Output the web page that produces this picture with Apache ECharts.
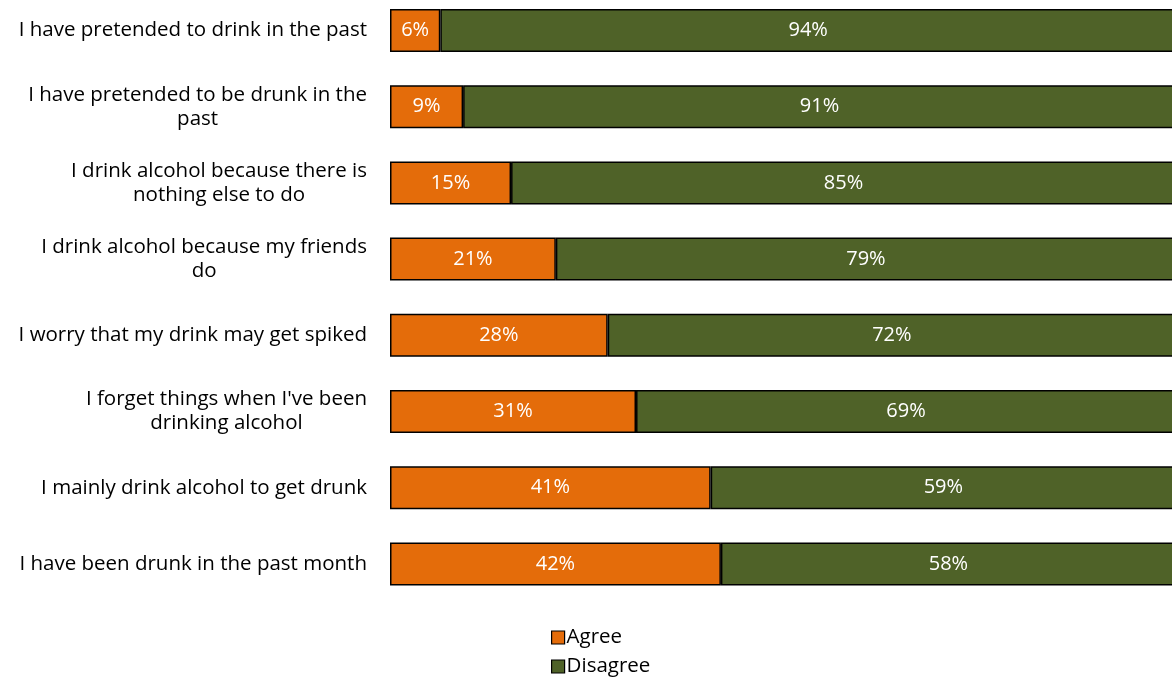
<!DOCTYPE html>
<html>
<head>
<meta charset="utf-8">
<script src="https://cdn.jsdelivr.net/npm/echarts@6/dist/echarts.min.js"></script>
<style>
  html, body { margin: 0; padding: 0; background: #fff; }
  #chart { width: 1172px; height: 679px; }
</style>
</head>
<body>
<div id="chart"></div>
<script>
const categories = [
  'I have pretended to drink in the past',
  'I have pretended to be drunk in the\npast',
  'I drink alcohol because there is\nnothing else to do',
  'I drink alcohol because my friends\ndo',
  'I worry that my drink may get spiked',
  "I forget things when I've been\ndrinking alcohol",
  'I mainly drink alcohol to get drunk',
  'I have been drunk in the past month'
]
const agree = [6.4, 9.3, 15.4, 21.1, 27.7, 31.3, 40.8, 42.1]
const disagree = [93.6, 90.7, 84.6, 78.9, 72.3, 68.7, 59.2, 57.9]

const chart = echarts.init(document.getElementById('chart'))
const font = '"Open Sans", "Noto Sans", sans-serif'

const barLabel = {
  show: true,
  position: 'inside',
  color: '#fff',
  fontSize: 20,
  fontFamily: font,
  formatter: (p) => Math.round(p.value) + '%'
}

chart.setOption({
  animation: false,
  legend: {
    orient: 'vertical',
    left: 546,
    top: 622,
    height: 100,
    icon: 'rect',
    itemWidth: 13,
    itemHeight: 13,
    itemGap: 8,
    itemStyle: { borderColor: '#000', borderWidth: 1.2 },
    textStyle: { color: '#000', fontSize: 20.5, fontFamily: font, padding: [0, 0, 0, -3] },
    data: ['Agree', 'Disagree']
  },
  grid: {
    left: 390,
    top: -7.6,
    width: 786,
    height: 609.6,
    outerBoundsMode: 'none',
    containLabel: false
  },
  xAxis: {
    type: 'value',
    min: 0,
    max: 100,
    show: false
  },
  yAxis: {
    type: 'category',
    inverse: true,
    data: categories,
    axisLine: { show: false },
    axisTick: { show: false },
    axisLabel: {
      margin: 23,
      align: 'right',
      color: '#000',
      fontSize: 20.5,
      fontFamily: font,
      formatter: (v) => v.split('\n').map(s => '{c|' + s + '}').join('\n'),
      rich: {
        c: { align: 'center', fontSize: 20.5, fontFamily: font, color: '#000', lineHeight: 24 }
      }
    }
  },
  series: [
    {
      name: 'Agree',
      type: 'bar',
      stack: 'total',
      barWidth: 43,
      data: agree,
      itemStyle: { color: '#E46C0A', borderColor: '#000', borderWidth: 1.5 },
      label: barLabel
    },
    {
      name: 'Disagree',
      type: 'bar',
      stack: 'total',
      barWidth: 43,
      data: disagree,
      itemStyle: { color: '#4F6228', borderColor: '#000', borderWidth: 1.5 },
      label: barLabel
    }
  ]
})
</script>
</body>
</html>
